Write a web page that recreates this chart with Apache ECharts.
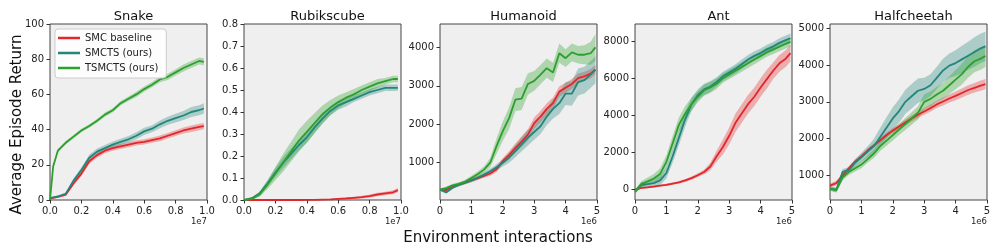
<!DOCTYPE html>
<html>
<head>
<meta charset="utf-8">
<script src="https://cdn.jsdelivr.net/npm/echarts@6/dist/echarts.min.js"></script>
<style>html,body{margin:0;padding:0;background:#fff}#c{width:996px;height:249px}</style>
</head>
<body>
<div id="c"></div>
<script>
// ---------- data ----------
const titles = ['Snake', 'Rubikscube', 'Humanoid', 'Ant', 'Halfcheetah'];
const seriesNames = ['SMC baseline', 'SMCTS (ours)', 'TSMCTS (ours)'];

const xSnake = [0,0.02,0.05,0.1,0.15,0.2,0.25,0.3,0.35,0.4,0.45,0.5,0.55,0.6,0.65,0.7,0.75,0.8,0.85,0.9,0.95,0.98];
const snakeSMC    = [1,1.2,1.8,3,9.5,15,22,25.5,28,29.5,30.5,31.5,32.5,33,34,35,36.5,38,39.5,40.5,41.5,42];
const snakeSMCTS  = [1,1.5,2,3.5,11,17,24,27.5,29.5,31.5,33,34.5,36.5,39,40.5,43,45,46.5,48,50,51,52];
const snakeTSMCTS = [0,19,28,32.5,36,39.5,42,45,48.5,51,55,57.5,60,63,65.5,68.5,70,72.5,75,77,79,78.5];
const snakeSMCStd    = [0.3,0.4,0.5,0.7,1.2,1.5,1.5,1.5,1.5,1.5,1.5,1.5,1.5,1.5,1.5,1.6,1.6,1.7,1.7,1.8,1.8,1.8];
const snakeSMCTSStd  = [0.3,0.4,0.5,0.7,1.2,1.5,1.7,1.8,1.8,1.8,1.8,1.8,2,2,2,2.2,2.3,2.5,2.5,2.8,2.8,3];
const snakeTSMCTSStd = [0,1,1,1,1,1,1,1,1.2,1.2,1.3,1.3,1.5,1.5,1.5,1.6,1.8,1.8,2,2,2,2];

const xRubik = [0,0.05,0.1,0.15,0.2,0.25,0.3,0.35,0.4,0.45,0.5,0.55,0.6,0.65,0.7,0.75,0.8,0.85,0.9,0.95,0.98];
const rubikSMC    = [0,0,0,0,0,0,0,0,0.001,0.001,0.002,0.003,0.005,0.007,0.01,0.013,0.018,0.025,0.03,0.035,0.045];
const rubikSMCTS  = [0,0.008,0.03,0.075,0.125,0.17,0.21,0.25,0.285,0.33,0.37,0.405,0.43,0.445,0.46,0.475,0.49,0.5,0.51,0.51,0.51];
const rubikTSMCTS = [0,0.005,0.025,0.07,0.12,0.17,0.22,0.27,0.31,0.35,0.39,0.42,0.445,0.465,0.48,0.5,0.515,0.53,0.54,0.55,0.55];
const rubikSMCStd    = [0,0,0,0,0,0,0,0,0.001,0.001,0.002,0.002,0.003,0.004,0.005,0.006,0.007,0.008,0.008,0.009,0.01];
const rubikSMCTSStd  = [0,0.005,0.01,0.015,0.02,0.025,0.025,0.025,0.025,0.025,0.025,0.02,0.02,0.02,0.015,0.015,0.015,0.015,0.015,0.015,0.015];
const rubikTSMCTSStd = [0,0.005,0.01,0.02,0.03,0.04,0.045,0.05,0.05,0.045,0.04,0.035,0.03,0.025,0.025,0.02,0.02,0.02,0.015,0.015,0.015];

const xMujoco = [0,0.2,0.4,0.6,0.8,1.0,1.2,1.4,1.6,1.8,2.0,2.2,2.4,2.6,2.8,3.0,3.2,3.4,3.6,3.8,4.0,4.2,4.4,4.6,4.8,4.95];

const humSMC    = [300,290,380,430,480,540,600,660,720,830,1040,1200,1380,1550,1730,2030,2200,2400,2550,2850,2950,3050,3200,3250,3320,3420];
const humSMCTS  = [300,230,350,420,480,540,610,690,780,880,1000,1130,1300,1480,1650,1800,1950,2200,2400,2550,2800,2800,3100,3150,3300,3420];
const humTSMCTS = [300,340,410,450,510,600,700,820,1000,1430,1820,2160,2640,2670,3050,3130,3290,3460,3350,3850,3720,3870,3810,3810,3850,4000];
const humSMCStd    = [30,30,40,40,40,50,50,50,60,70,80,100,120,140,150,150,150,150,150,140,130,130,120,120,120,120];
const humSMCTSStd  = [30,40,40,40,40,50,50,60,70,80,100,130,160,180,200,200,200,220,250,280,300,320,350,350,350,350];
const humTSMCTSStd = [30,40,40,40,50,60,70,80,120,200,250,280,300,300,280,260,250,250,250,250,230,230,230,250,300,350];

const antSMC    = [0,100,130,170,220,260,330,400,500,620,780,950,1250,1800,2300,2900,3600,4100,4600,5000,5500,5950,6400,6800,7050,7350];
const antSMCTS  = [-100,250,300,350,500,900,1800,2800,3800,4600,5100,5400,5550,5800,6100,6300,6500,6750,7000,7200,7350,7550,7700,7900,8050,8150];
const antTSMCTS = [-100,300,450,600,850,1500,2500,3500,4100,4600,5000,5350,5500,5700,6000,6200,6400,6600,6800,7000,7200,7400,7550,7700,7850,7950];
const antSMCStd    = [50,50,50,50,50,60,60,70,80,90,100,120,200,300,400,450,500,500,500,500,500,500,450,450,450,450];
const antSMCTSStd  = [100,150,150,200,250,300,350,400,400,350,300,300,300,250,250,250,250,250,250,250,250,250,250,250,250,250];
const antTSMCTSStd = [100,150,200,250,300,350,400,400,400,350,300,300,300,280,250,250,250,250,250,250,250,250,250,250,250,250];

const hcSMC    = [730,800,1000,1200,1380,1520,1680,1820,1960,2100,2220,2330,2440,2550,2650,2740,2830,2930,3010,3090,3160,3240,3320,3380,3440,3480];
const hcSMCTS  = [650,620,1100,1150,1350,1500,1650,1800,2050,2300,2550,2750,3000,3150,3300,3350,3450,3650,3850,3980,4050,4150,4250,4350,4450,4500];
const hcTSMCTS = [650,600,950,1100,1200,1300,1450,1600,1800,1950,2100,2250,2400,2550,2700,3000,3080,3200,3300,3450,3600,3750,3950,4100,4170,4240];
const hcSMCStd    = [60,60,60,60,60,60,60,60,60,70,70,70,80,80,90,90,100,100,110,110,120,120,130,130,140,140];
const hcSMCTSStd  = [60,60,80,80,100,120,150,200,250,280,300,320,330,330,330,300,300,300,320,330,350,370,380,400,400,400];
const hcTSMCTSStd = [60,60,80,80,90,100,100,120,130,140,150,150,160,170,180,200,200,200,220,240,260,280,300,300,300,300];

const colors = ['#e3262b', '#22877a', '#2ca02c'];

// ---------- layout ----------
const plotLeft = [50, 244, 440, 635, 830];
const plotW = 157, plotTop = 24, plotH = 176;

const panels = [
  {x: xSnake, means: [snakeSMC, snakeSMCTS, snakeTSMCTS], stds: [snakeSMCStd, snakeSMCTSStd, snakeTSMCTSStd],
   xMin: 0, xMax: 1, xInt: 0.2, xFmt: v => v.toFixed(1), yMin: 0, yMax: 100, yInt: 20, yFmt: v => String(v), off: '1e7'},
  {x: xRubik, means: [rubikSMC, rubikSMCTS, rubikTSMCTS], stds: [rubikSMCStd, rubikSMCTSStd, rubikTSMCTSStd],
   xMin: 0, xMax: 1, xInt: 0.2, xFmt: v => v.toFixed(1), yMin: 0, yMax: 0.8, yInt: 0.1, yFmt: v => v.toFixed(1), off: '1e7'},
  {x: xMujoco, means: [humSMC, humSMCTS, humTSMCTS], stds: [humSMCStd, humSMCTSStd, humTSMCTSStd],
   xMin: 0, xMax: 5, xInt: 1, xFmt: v => String(v), yMin: 30, yMax: 4610, yInt: null, yFmt: v => String(v), off: '1e6'},
  {x: xMujoco, means: [antSMC, antSMCTS, antTSMCTS], stds: [antSMCStd, antSMCTSStd, antTSMCTSStd],
   xMin: 0, xMax: 5, xInt: 1, xFmt: v => String(v), yMin: -554, yMax: 8915, yInt: null, yFmt: v => String(v), off: '1e6'},
  {x: xMujoco, means: [hcSMC, hcSMCTS, hcTSMCTS], stds: [hcSMCStd, hcSMCTSStd, hcTSMCTSStd],
   xMin: 0, xMax: 5, xInt: 1, xFmt: v => String(v), yMin: 341, yMax: 5108, yInt: null, yFmt: v => String(v), off: '1e6'}
];

const FONT = 'DejaVu Sans';
const grid = [], xAxis = [], yAxis = [], series = [], title = [], graphic = [];

function bandRenderer(rows, color) {
  return function (params, api) {
    if (params.dataIndex !== 0) return null;
    const up = rows.map(r => api.coord([r[0], r[2]]));
    const lo = rows.map(r => api.coord([r[0], r[1]])).reverse();
    return {type: 'polygon', shape: {points: up.concat(lo)},
      style: {fill: color, opacity: 0.33, stroke: null}};
  };
}

panels.forEach((p, gi) => {
  grid.push({left: plotLeft[gi], top: plotTop, width: plotW, height: plotH, show: true,
    backgroundColor: '#efefef', borderColor: '#444', borderWidth: 1, containLabel: false});
  const tickStyle = {show: true, length: 3.5, inside: false, lineStyle: {color: '#333', width: 1}};
  xAxis.push({type: 'value', gridIndex: gi, min: p.xMin, max: p.xMax, interval: p.xInt, position: 'bottom',
    axisLine: {show: false, onZero: false}, axisTick: tickStyle, splitLine: {show: false},
    axisLabel: {fontSize: 10, fontFamily: FONT, color: '#222', margin: 6, formatter: p.xFmt,
      showMinLabel: true, showMaxLabel: true}});
  const ya = {type: 'value', gridIndex: gi, min: p.yMin, max: p.yMax, position: 'left',
    axisLine: {show: false, onZero: false}, axisTick: tickStyle, splitLine: {show: false},
    axisLabel: {fontSize: 10, fontFamily: FONT, color: '#222', margin: 6, formatter: p.yFmt}};
  if (p.yInt !== null) { ya.interval = p.yInt; }
  else { ya.splitNumber = 5; ya.axisLabel.showMinLabel = false; ya.axisLabel.showMaxLabel = false; }
  yAxis.push(ya);

  title.push({text: titles[gi], left: plotLeft[gi] + plotW / 2, top: 5, textAlign: 'center',
    textStyle: {fontSize: 13, fontWeight: 'normal', fontFamily: FONT, color: '#111'}});

  graphic.push({type: 'text', right: 996 - (plotLeft[gi] + plotW), top: 217,
    style: {text: p.off, fontSize: 8.5, fontFamily: FONT, fill: '#222'}});

  for (let k = 0; k < 3; k++) {
    const m = p.means[k], s = p.stds[k];
    const rows = p.x.map((x, i) => [x, m[i] - s[i], m[i] + s[i]]);
    series.push({type: 'custom', name: 'band' + gi + k, xAxisIndex: gi, yAxisIndex: gi,
      silent: true, clip: true, z: 1, encode: {x: 0, y: [1, 2]},
      renderItem: bandRenderer(rows, colors[k]), data: rows});
  }
  for (let k = 0; k < 3; k++) {
    series.push({type: 'line', name: seriesNames[k], xAxisIndex: gi, yAxisIndex: gi, symbol: 'none',
      lineStyle: {color: colors[k], width: 1.8}, itemStyle: {color: colors[k]}, z: 3,
      data: p.x.map((x, i) => [x, p.means[k][i]])});
  }
});

graphic.push({type: 'text', x: 17, y: 124.5, rotation: Math.PI / 2,
  style: {text: 'Average Episode Return', fontSize: 15, fontFamily: FONT, fill: '#111',
    textAlign: 'center', textVerticalAlign: 'middle'}});
graphic.push({type: 'text', x: 498, y: 238,
  style: {text: 'Environment interactions', fontSize: 15, fontFamily: FONT, fill: '#111',
    textAlign: 'center', textVerticalAlign: 'middle'}});

const chart = echarts.init(document.getElementById('c'), null, {renderer: 'canvas'});
chart.setOption({
  animation: false,
  backgroundColor: '#fff',
  title, grid, xAxis, yAxis, series, graphic,
  legend: {data: seriesNames.map((n, k) => ({name: n, icon: 'rect', itemStyle: {color: colors[k]}})),
    orient: 'vertical', left: 55, top: 29, itemWidth: 22, itemHeight: 2.5, itemGap: 3,
    backgroundColor: 'rgba(255,255,255,0.85)', borderColor: '#ccc', borderWidth: 1, borderRadius: 3,
    padding: [3, 8, 4, 3], selectedMode: false,
    textStyle: {fontSize: 10, fontFamily: FONT, color: '#222', lineHeight: 12}}
});
</script>
</body>
</html>
